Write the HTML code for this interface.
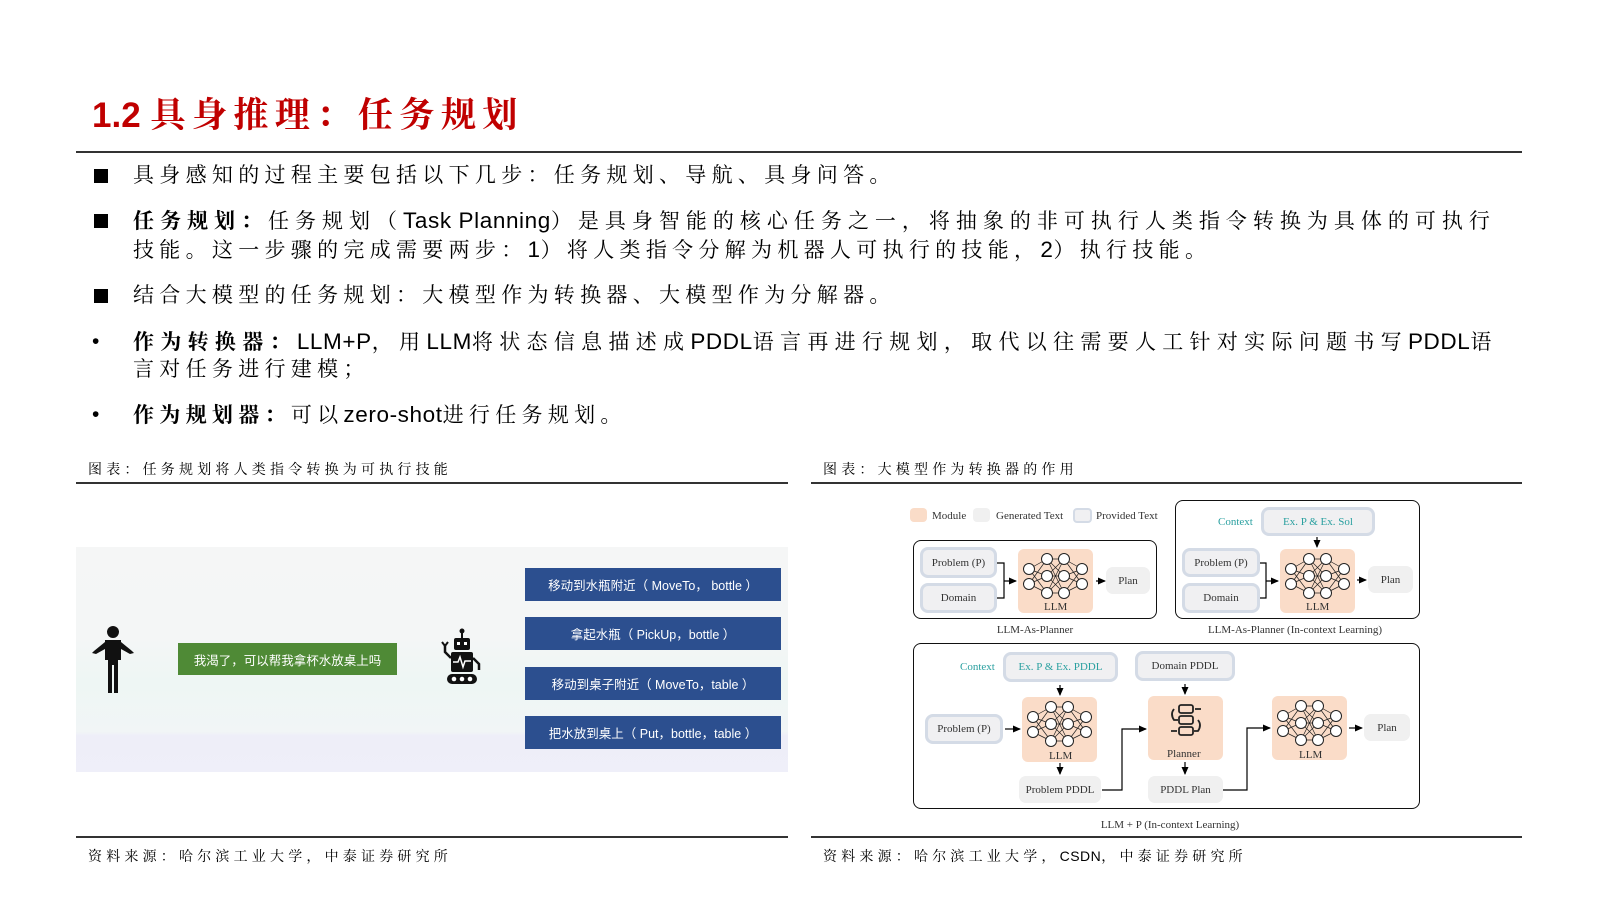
<!DOCTYPE html>
<html><head><meta charset="utf-8"><style>
*{margin:0;padding:0;box-sizing:border-box}
body{width:1600px;height:900px;background:#fff;position:relative;overflow:hidden;font-family:"Liberation Sans","Noto Serif CJK SC",serif;color:#000}
.a{position:absolute;white-space:nowrap}
.t{font-size:21px;line-height:28px;letter-spacing:5.3px}
.t i{font-style:normal;letter-spacing:0.6px;font-size:22.5px}
.sq{position:absolute;width:14px;height:14px;background:#000}
.hl{position:absolute;height:2px;background:#333}
.cap{font-size:14px;letter-spacing:4.2px}
.cap i{font-style:normal;letter-spacing:0.5px}
.bb{position:absolute;background:#2c4f8f;color:#fff;font-family:"Liberation Sans","Noto Sans CJK SC",sans-serif;font-size:12.5px;display:flex;align-items:center;justify-content:center}
.d{font-family:"Liberation Serif","DejaVu Serif",serif;font-size:11px;color:#333}
.pv{position:absolute;background:#f0f0f2;border:3px solid #d4dbe6;border-radius:8px;display:flex;align-items:center;justify-content:center}
.gn{position:absolute;background:#f0f0f0;border-radius:7px;display:flex;align-items:center;justify-content:center}
.md{position:absolute;background:#fadcc8;border-radius:6px}
.bx{position:absolute;border:1.5px solid #111;border-radius:8px}
.teal{color:#2aa0a0}
</style></head><body>
<div class="a" style="left:92px;top:88px;font-size:35px;font-weight:bold;color:#c00000;letter-spacing:6.5px;font-family:'Liberation Sans','Noto Serif CJK SC',serif"><span style="letter-spacing:0">1.2 </span>具身推理：任务规划</div>
<div class="hl" style="left:76px;top:151px;width:1446px"></div>

<div class="sq" style="left:94px;top:169px"></div>
<div class="a t" style="left:133px;top:162px">具身感知的过程主要包括以下几步：任务规划、导航、具身问答。</div>
<div class="sq" style="left:94px;top:214px"></div>
<div class="a t" style="left:133px;top:207px;letter-spacing:6px"><b>任务规划：</b>任务规划（<i>Task Planning</i>）是具身智能的核心任务之一，将抽象的非可执行人类指令转换为具体的可执行</div>
<div class="a t" style="left:133px;top:236px">技能。这一步骤的完成需要两步：<i>1</i>）将人类指令分解为机器人可执行的技能，<i>2</i>）执行技能。</div>
<div class="sq" style="left:94px;top:289px"></div>
<div class="a t" style="left:133px;top:282px">结合大模型的任务规划：大模型作为转换器、大模型作为分解器。</div>
<div class="a t" style="left:92px;top:328px">•</div>
<div class="a t" style="left:133px;top:328px;letter-spacing:6.3px"><b>作为转换器：</b><i>LLM+P</i>，用<i>LLM</i>将状态信息描述成<i>PDDL</i>语言再进行规划，取代以往需要人工针对实际问题书写<i>PDDL</i>语</div>
<div class="a t" style="left:133px;top:356px">言对任务进行建模；</div>
<div class="a t" style="left:92px;top:401px">•</div>
<div class="a t" style="left:133px;top:401px"><b>作为规划器：</b>可以<i>zero-shot</i>进行任务规划。</div>

<div class="a cap" style="left:88px;top:459px">图表：任务规划将人类指令转换为可执行技能</div>
<div class="a cap" style="left:823px;top:459px">图表：大模型作为转换器的作用</div>
<div class="hl" style="left:76px;top:482px;width:712px"></div>
<div class="hl" style="left:811px;top:482px;width:711px"></div>
<div class="hl" style="left:76px;top:836px;width:712px"></div>
<div class="hl" style="left:811px;top:836px;width:711px"></div>
<div class="a cap" style="left:88px;top:846px">资料来源：哈尔滨工业大学，中泰证券研究所</div>
<div class="a cap" style="left:823px;top:846px">资料来源：哈尔滨工业大学，<i>CSDN</i>，中泰证券研究所</div>

<!-- left figure -->
<div class="a" style="left:76px;top:547px;width:712px;height:225px;background:linear-gradient(#f5f6f6 0%,#f4f6f6 40%,#eef6f4 60%,#f1f5f6 82%,#eeeef8 84%,#efeff9 100%)"></div>
<div class="bb" style="left:525px;top:568px;width:256px;height:33px">移动到水瓶附近（ MoveTo， bottle ）</div>
<div class="bb" style="left:525px;top:617px;width:256px;height:33px">拿起水瓶（ PickUp，bottle ）</div>
<div class="bb" style="left:525px;top:667px;width:256px;height:33px">移动到桌子附近（ MoveTo，table ）</div>
<div class="bb" style="left:525px;top:716px;width:256px;height:33px">把水放到桌上（ Put，bottle，table ）</div>
<div class="bb" style="left:178px;top:643px;width:219px;height:32px;background:#4f8a36">我渴了，可以帮我拿杯水放桌上吗</div>
<svg class="a" style="left:88px;top:625px" width="50" height="70" viewBox="0 0 50 70">
<circle cx="25" cy="7" r="6" fill="#111"/>
<path d="M17 15 H33 V35 H30 V68 H26 V40 H24 V68 H20 V35 H17 Z" fill="#111"/>
<path d="M17 17 L6 26 L4 28 L8 29 L17 24Z M33 17 L44 26 L46 28 L42 29 L33 24Z" fill="#111"/>
</svg>
<svg class="a" style="left:440px;top:628px" width="46" height="60" viewBox="0 0 46 60">
<line x1="22" y1="2" x2="22" y2="10" stroke="#111" stroke-width="2"/><circle cx="22" cy="3" r="2.5" fill="#111"/>
<rect x="14" y="10" width="16" height="12" rx="2" fill="#111"/>
<rect x="17" y="14" width="3" height="3" fill="#fff"/><rect x="24" y="14" width="3" height="3" fill="#fff"/>
<rect x="11" y="24" width="22" height="20" rx="2" fill="#111"/>
<polyline points="13,34 18,34 20,29 23,39 25,33 31,33" fill="none" stroke="#fff" stroke-width="1.5"/>
<path d="M11 30 L5 24 V16" stroke="#111" stroke-width="2.5" fill="none"/><path d="M2 14 L5 18 L8 14" stroke="#111" stroke-width="2" fill="none"/>
<path d="M33 30 L39 36 V42" stroke="#111" stroke-width="2.5" fill="none"/>
<rect x="7" y="46" width="30" height="10" rx="5" fill="#111"/>
<circle cx="14" cy="51" r="2.3" fill="#fff"/><circle cx="22" cy="51" r="2.3" fill="#fff"/><circle cx="30" cy="51" r="2.3" fill="#fff"/>
</svg>

<!-- right figure -->
<svg width="0" height="0" style="position:absolute"><defs>
<symbol id="nn" viewBox="0 0 75 64">
<g stroke="#222" stroke-width="0.7">
<path d="M11 20 L29 10 M11 20 L29 27 M11 20 L29 44 M11 35 L29 10 M11 35 L29 27 M11 35 L29 44 M29 10 L46 10 M29 10 L46 27 M29 10 L46 44 M29 27 L46 10 M29 27 L46 27 M29 27 L46 44 M29 44 L46 10 M29 44 L46 27 M29 44 L46 44 M46 10 L64 20 M46 10 L64 35 M46 27 L64 20 M46 27 L64 35 M46 44 L64 20 M46 44 L64 35"/>
</g>
<g fill="#fff" stroke="#222" stroke-width="1">
<circle cx="11" cy="20" r="5.5"/><circle cx="11" cy="35" r="5.5"/>
<circle cx="29" cy="10" r="5.5"/><circle cx="29" cy="27" r="5.5"/><circle cx="29" cy="44" r="5.5"/>
<circle cx="46" cy="10" r="5.5"/><circle cx="46" cy="27" r="5.5"/><circle cx="46" cy="44" r="5.5"/>
<circle cx="64" cy="20" r="5.5"/><circle cx="64" cy="35" r="5.5"/>
</g></symbol>
<marker id="ar" markerWidth="8" markerHeight="8" refX="7" refY="4" orient="auto" markerUnits="userSpaceOnUse"><path d="M0 0.5 L8 4 L0 7.5Z" fill="#000"/></marker>
</defs></svg>

<div class="a d" style="left:910px;top:508px;width:17px;height:14px;background:#fadcc8;border-radius:4px"></div>
<div class="a d" style="left:932px;top:510px">Module</div>
<div class="a d" style="left:973px;top:508px;width:17px;height:14px;background:#f0f0f0;border-radius:4px"></div>
<div class="a d" style="left:996px;top:510px">Generated Text</div>
<div class="a d" style="left:1073px;top:508px;width:19px;height:15px;background:#f0f0f2;border:2px solid #d4dbe6;border-radius:4px"></div>
<div class="a d" style="left:1096px;top:510px">Provided Text</div>

<div class="bx" style="left:913px;top:540px;width:244px;height:79px"></div>
<div class="bx" style="left:1175px;top:500px;width:245px;height:119px"></div>
<div class="bx" style="left:913px;top:643px;width:507px;height:166px"></div>

<!-- box1 -->
<div class="pv d" style="left:920px;top:547px;width:77px;height:31px">Problem (P)</div>
<div class="pv d" style="left:920px;top:583px;width:77px;height:30px">Domain</div>
<div class="md" style="left:1018px;top:549px;width:75px;height:64px"></div>
<svg class="a" style="left:1018px;top:549px" width="75" height="64"><use href="#nn"/></svg>
<div class="a d" style="left:1044px;top:601px">LLM</div>
<div class="gn d" style="left:1106px;top:567px;width:44px;height:27px">Plan</div>
<div class="a d" style="left:990px;top:624px;width:90px;text-align:center">LLM-As-Planner</div>

<!-- box2 -->
<div class="a d teal" style="left:1218px;top:516px">Context</div>
<div class="pv d teal" style="left:1261px;top:507px;width:114px;height:29px">Ex. P &amp; Ex. Sol</div>
<div class="pv d" style="left:1182px;top:548px;width:78px;height:29px">Problem (P)</div>
<div class="pv d" style="left:1182px;top:583px;width:78px;height:30px">Domain</div>
<div class="md" style="left:1280px;top:549px;width:75px;height:64px"></div>
<svg class="a" style="left:1280px;top:549px" width="75" height="64"><use href="#nn"/></svg>
<div class="a d" style="left:1306px;top:601px">LLM</div>
<div class="gn d" style="left:1368px;top:566px;width:45px;height:27px">Plan</div>
<div class="a d" style="left:1200px;top:624px;width:190px;text-align:center">LLM-As-Planner (In-context Learning)</div>

<!-- box3 -->
<div class="a d teal" style="left:960px;top:661px">Context</div>
<div class="pv d teal" style="left:1003px;top:652px;width:115px;height:30px">Ex. P &amp; Ex. PDDL</div>
<div class="pv d" style="left:1135px;top:651px;width:100px;height:30px">Domain PDDL</div>
<div class="pv d" style="left:925px;top:714px;width:78px;height:30px">Problem (P)</div>
<div class="md" style="left:1022px;top:697px;width:75px;height:65px"></div>
<svg class="a" style="left:1022px;top:697px" width="75" height="64"><use href="#nn"/></svg>
<div class="a d" style="left:1049px;top:750px">LLM</div>
<div class="gn d" style="left:1019px;top:776px;width:82px;height:27px">Problem PDDL</div>
<div class="md" style="left:1148px;top:696px;width:75px;height:64px"></div>
<svg class="a" style="left:1168px;top:703px" width="36" height="34" viewBox="0 0 36 34" fill="none" stroke="#222" stroke-width="1.8">
<rect x="11" y="2" width="14" height="8" rx="2"/><rect x="11" y="13" width="14" height="8" rx="2"/><rect x="11" y="24" width="14" height="8" rx="2"/>
<path d="M33 6 H27 M6 6 Q2 11 6 17 H10 M30 17 Q34 22 30 28 H26 M9 28 H3"/>
</svg>
<div class="a d" style="left:1167px;top:748px">Planner</div>
<div class="gn d" style="left:1148px;top:776px;width:75px;height:27px">PDDL Plan</div>
<div class="md" style="left:1272px;top:696px;width:75px;height:64px"></div>
<svg class="a" style="left:1272px;top:696px" width="75" height="64"><use href="#nn"/></svg>
<div class="a d" style="left:1299px;top:749px">LLM</div>
<div class="gn d" style="left:1364px;top:714px;width:46px;height:27px">Plan</div>
<div class="a d" style="left:1070px;top:819px;width:200px;text-align:center">LLM + P (In-context Learning)</div>

<svg class="a" style="left:0;top:0" width="1600" height="900" fill="none" stroke="#000" stroke-width="1.2">
<path d="M997 563 H1004 V598 H997 M1004 581 H1016" marker-end="url(#ar)"/>
<path d="M1096 581 H1105" marker-end="url(#ar)"/>
<path d="M1260 563 H1266 V598 H1260 M1266 581 H1278" marker-end="url(#ar)"/>
<path d="M1317 537 V547" marker-end="url(#ar)"/>
<path d="M1357 580 H1366" marker-end="url(#ar)"/>
<path d="M1005 729 H1020" marker-end="url(#ar)"/>
<path d="M1060 685 V695" marker-end="url(#ar)"/>
<path d="M1185 684 V694" marker-end="url(#ar)"/>
<path d="M1060 763 V774" marker-end="url(#ar)"/>
<path d="M1185 762 V774" marker-end="url(#ar)"/>
<path d="M1102 790 H1122 V729 H1146" marker-end="url(#ar)"/>
<path d="M1223 790 H1247 V728 H1270" marker-end="url(#ar)"/>
<path d="M1349 728 H1362" marker-end="url(#ar)"/>
</svg>
</body></html>
